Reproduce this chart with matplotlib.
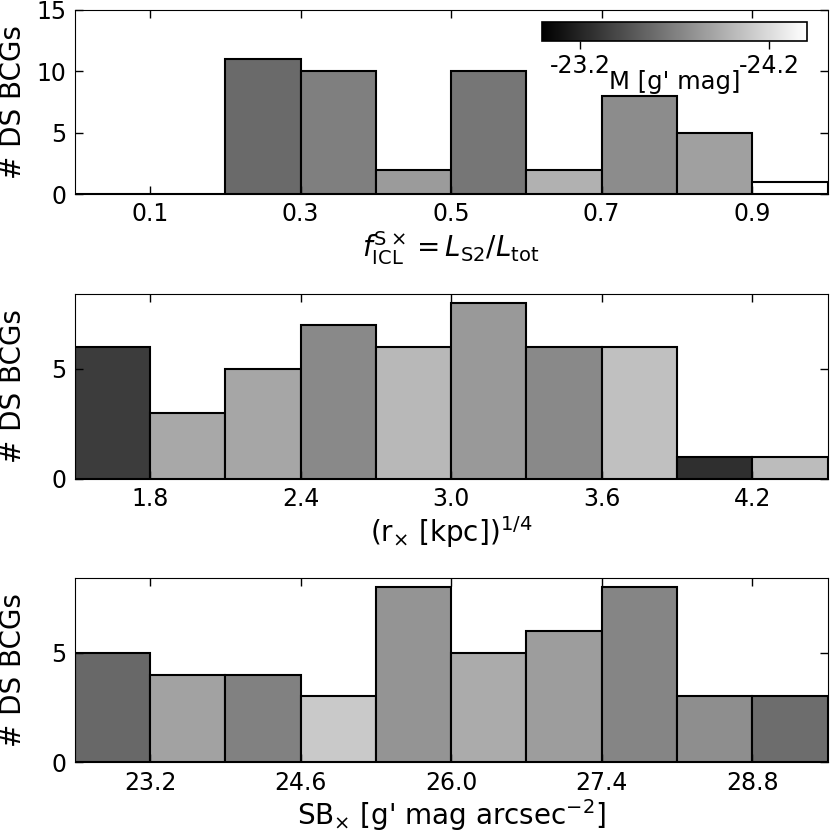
import numpy as np
import matplotlib
matplotlib.use("Agg")
import matplotlib.pyplot as plt
from matplotlib.colors import Normalize

# top panel: ICL fraction
ficl_edges = [0.0, 0.1, 0.2, 0.3, 0.4, 0.5, 0.6, 0.7, 0.8, 0.9, 1.0]
ficl_counts = [0, 0, 11, 10, 2, 10, 2, 8, 5, 1]
ficl_mag = [np.nan, np.nan, -23.58, -23.70, -23.85, -23.65, -23.97, -23.77, -23.88, -24.40]

# middle panel: (r_x)^1/4
rx_edges = [1.5, 1.8, 2.1, 2.4, 2.7, 3.0, 3.3, 3.6, 3.9, 4.2, 4.5]
rx_counts = [6, 3, 5, 7, 6, 8, 6, 6, 1, 1]
rx_mag = [-23.33, -23.92, -23.91, -23.75, -24.01, -23.84, -23.75, -24.05, -23.26, -24.03]

# bottom panel: SB_x
sb_edges = [22.5, 23.2, 23.9, 24.6, 25.3, 26.0, 26.7, 27.4, 28.1, 28.8, 29.5]
sb_counts = [5, 4, 4, 3, 8, 5, 6, 8, 3, 3]
sb_mag = [-23.57, -23.89, -23.71, -24.10, -23.81, -23.94, -23.86, -23.73, -23.78, -23.60]

ficl_ticks = [0.1, 0.3, 0.5, 0.7, 0.9]
rx_ticks = [1.8, 2.4, 3.0, 3.6, 4.2]
sb_ticks = [23.2, 24.6, 26.0, 27.4, 28.8]
cb_ticks = [-23.2, -24.2]

cmap = plt.get_cmap("gray_r")
norm = Normalize(vmin=-24.4, vmax=-23.0)

fig = plt.figure(figsize=(8.3, 8.33), dpi=100)
ax1 = fig.add_axes([0.090, 0.767, 0.907, 0.221])
ax2 = fig.add_axes([0.090, 0.425, 0.907, 0.222])
ax3 = fig.add_axes([0.090, 0.085, 0.907, 0.221])


def hist_panel(ax, edges, counts, mags, ticks, xlabel, ylim, yticks):
    edges = np.array(edges)
    widths = np.diff(edges)
    colors = []
    for m in mags:
        if np.isnan(m):
            colors.append("white")
        else:
            colors.append(cmap(norm(m)))
    ax.bar(edges[:-1], counts, width=widths, align="edge", color=colors,
           edgecolor="black", linewidth=1.5)
    ax.set_xlim(edges[0], edges[-1])
    ax.set_ylim(*ylim)
    ax.set_xticks(ticks)
    ax.set_xticklabels(["%.1f" % t for t in ticks])
    ax.set_yticks(yticks)
    ax.tick_params(direction="in", top=True, right=True, labelsize=17,
                   length=6, width=1, pad=6)
    ax.set_xlabel(xlabel, fontsize=20, labelpad=2)
    ax.set_ylabel("# DS BCGs", fontsize=20)
    ax.yaxis.set_label_coords(-0.064, 0.5)


hist_panel(ax1, ficl_edges, ficl_counts, ficl_mag, ficl_ticks,
           r"$f^{\rm S\times}_{\rm ICL} = L_{\rm S2}/L_{\rm tot}$",
           (0, 15), [0, 5, 10, 15])
hist_panel(ax2, rx_edges, rx_counts, rx_mag, rx_ticks,
           r"(r$_{\times}$ [kpc])$^{1/4}$", (0, 8.4), [0, 5])
hist_panel(ax3, sb_edges, sb_counts, sb_mag, sb_ticks,
           r"SB$_{\times}$ [g' mag arcsec$^{-2}$]", (0, 8.4), [0, 5])

# colour bar inset
cax = fig.add_axes([0.653, 0.951, 0.319, 0.023])
sm = plt.cm.ScalarMappable(norm=norm, cmap=cmap)
cb = fig.colorbar(sm, cax=cax, orientation="horizontal")
cax.invert_xaxis()
cb.set_ticks(cb_ticks)
cb.set_ticklabels(["%.1f" % t for t in cb_ticks])
cax.tick_params(labelsize=17, length=6, width=1)
cb.outline.set_linewidth(1.2)
cb.set_label("M [g' mag]", fontsize=17.5, labelpad=-6)

fig.savefig("out.png", dpi=100)
